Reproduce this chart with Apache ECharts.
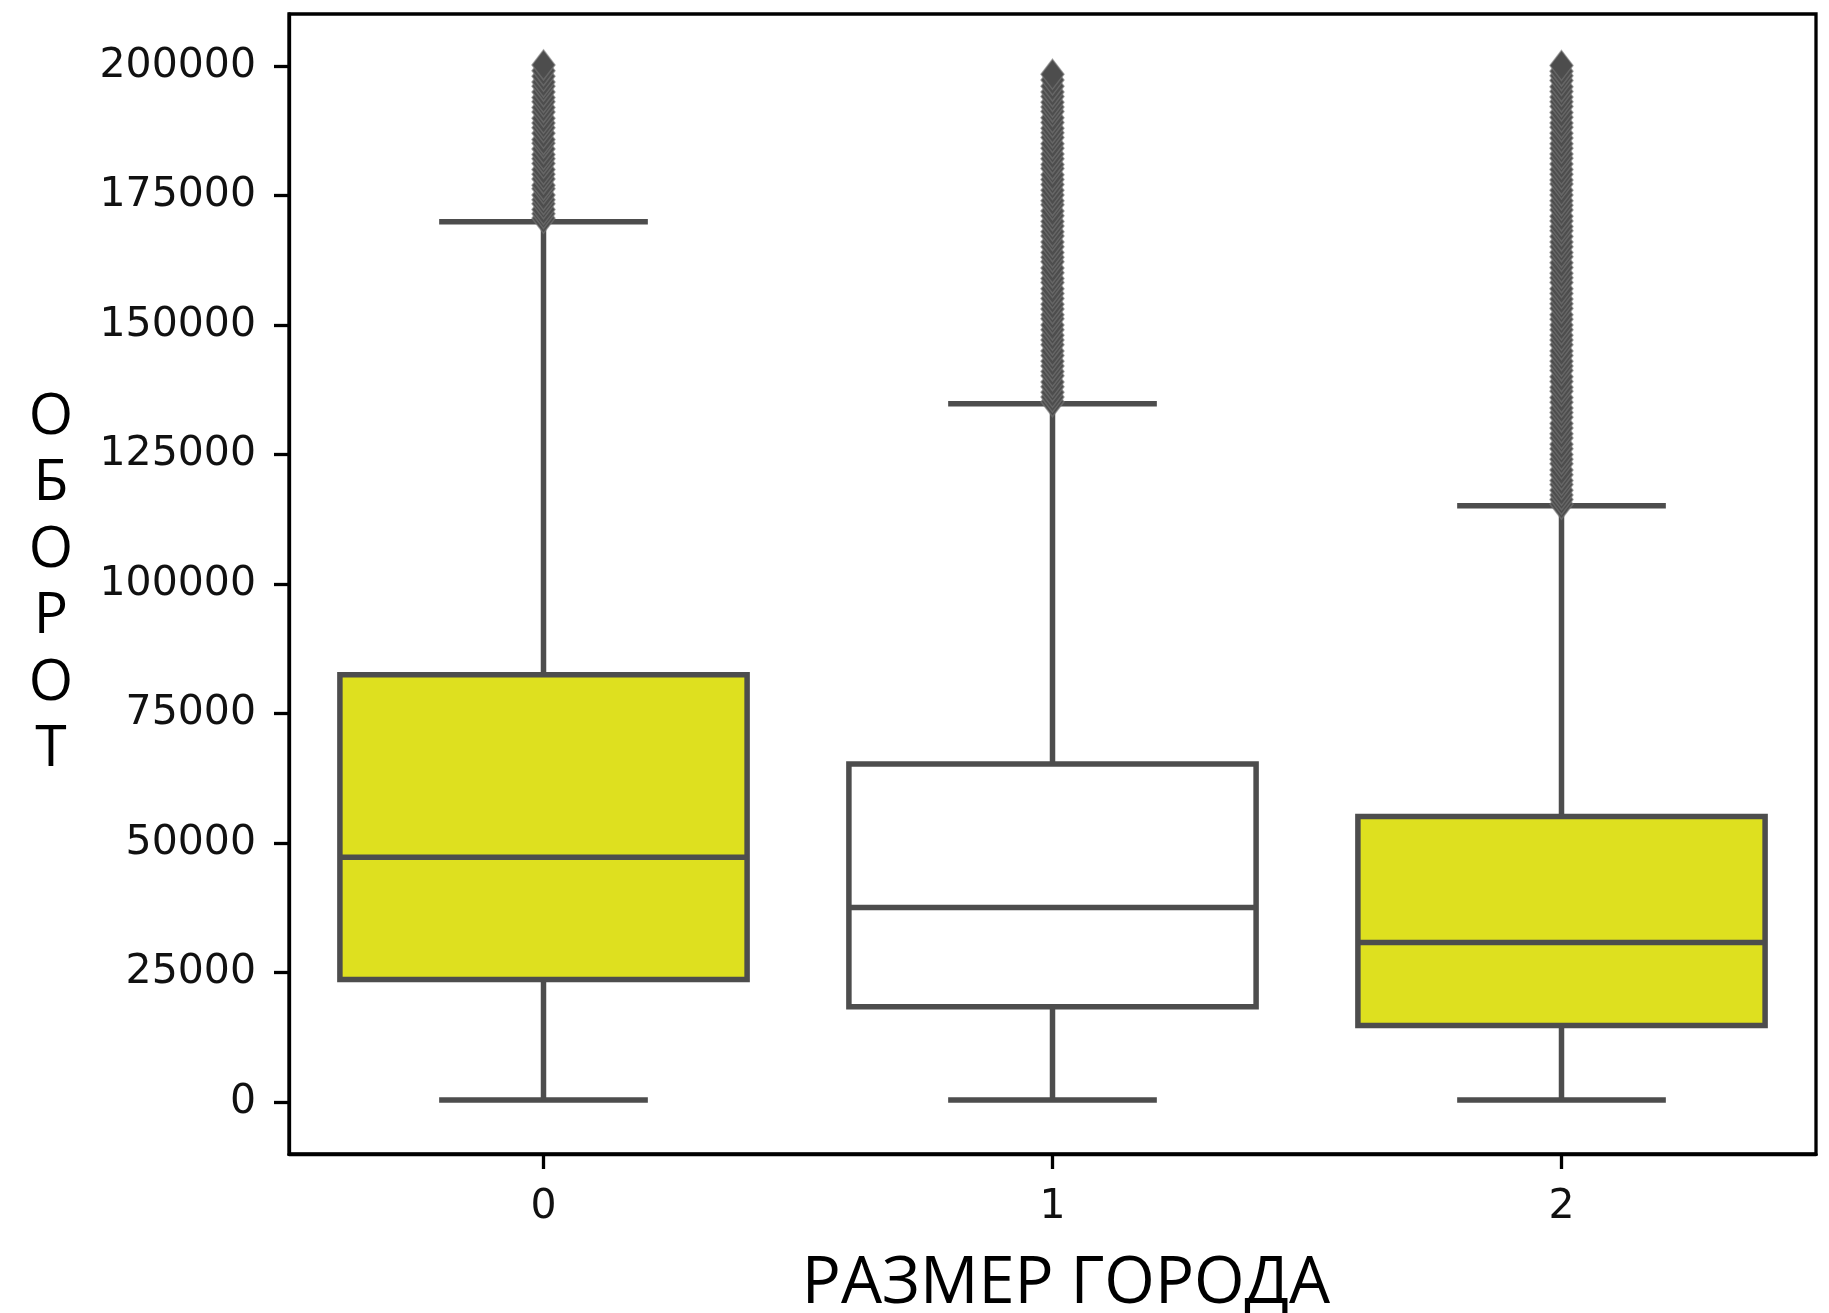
<!DOCTYPE html>
<html>
<head>
<meta charset="utf-8">
<script src="https://cdn.jsdelivr.net/npm/echarts@6/dist/echarts.min.js"></script>
<style>
  html, body { margin: 0; padding: 0; background: #ffffff; }
  #chart { width: 1829px; height: 1313px; }
</style>
</head>
<body>
<div id="chart"></div>
<script>
// City size groups on the x axis
const categories = ['0', '1', '2'];

// Box statistics per group: [lower whisker, Q1, median, Q3, upper whisker]
const boxStats = [
  [400, 23650, 47260, 82490, 169940],
  [400, 18400, 37550, 65250, 134800],
  [400, 14790, 30770, 55100, 115110]
];

// Box fill per group
const boxFills = ['#dee01f', '#ffffff', '#dee01f'];

// Outlying turnover values above the upper whisker, per group
const outliers0 = [
  170600, 171500, 172300, 173400, 174200, 175100, 176300, 177000, 178200, 179100,
  180000, 181200, 182100, 182900, 184000, 185100, 185800, 187000, 188100, 189000,
  189900, 191100, 192000, 193100, 193900, 195000, 196100, 196900, 198000, 199100,
  200200
];
const outliers1 = [
  135200, 136100, 137000, 138100, 139000, 140200, 141000, 142100, 143000, 144100,
  145000, 146200, 147100, 148000, 149100, 150000, 151200, 152000, 153100, 154000,
  155100, 156100, 157000, 158200, 159000, 160100, 161000, 162200, 163100, 164000,
  165100, 166000, 167200, 168000, 169100, 170000, 171100, 172000, 173200, 174000,
  175100, 176000, 177100, 178100, 179000, 180200, 181000, 182100, 183000, 184100,
  185000, 186200, 187100, 188000, 189100, 190000, 191200, 192100, 193000, 194100,
  195000, 196100, 197300, 198400
];
const outliers2 = [
  115400, 116300, 117200, 118100, 119200, 120000, 121100, 122000, 123200, 124100,
  125000, 126100, 127000, 128200, 129000, 130100, 131000, 132200, 133100, 134000,
  135100, 136000, 137200, 138000, 139100, 140000, 141200, 142100, 143000, 144100,
  145000, 146200, 147100, 148000, 149100, 150000, 151100, 152000, 153200, 154100,
  155000, 156100, 157000, 158200, 159100, 160000, 161100, 162000, 163200, 164000,
  165100, 166000, 167100, 168200, 169000, 170100, 171000, 172200, 173100, 174000,
  175100, 176000, 177200, 178000, 179100, 180000, 181100, 182200, 183000, 184100,
  185000, 186100, 187000, 188200, 189000, 190100, 191000, 192200, 193100, 194000,
  195100, 196000, 197200, 198100, 199000, 200100
];

// Tick values shown on the y axis
const yTicks = [0, 25000, 50000, 75000, 100000, 125000, 150000, 175000, 200000];

const xTitle = 'РАЗМЕР ГОРОДА';
const yTitle = 'ОБОРОТ';

const EDGE = '#4d4d4d';
const LINE_W = 5.5;
const TICK_FONT = 'DejaVu Sans';

const outlierData = [];
[outliers0, outliers1, outliers2].forEach((list, i) => {
  list.forEach(v => outlierData.push([i, v]));
});

const chart = echarts.init(document.getElementById('chart'), null, { renderer: 'canvas' });

chart.setOption({
  animation: false,
  backgroundColor: '#ffffff',
  grid: {
    left: 289, right: 13, top: 14, bottom: 159,
    containLabel: false,
    outerBoundsMode: 'none',
    show: true, borderColor: '#000000', borderWidth: 3.3,
    backgroundColor: 'transparent'
  },
  xAxis: {
    type: 'category',
    data: categories,
    boundaryGap: true,
    axisLine: { show: true, onZero: false, lineStyle: { color: '#000000', width: 3.3 } },
    axisTick: { show: true, alignWithLabel: true, length: 15, lineStyle: { color: '#000000', width: 3.3 } },
    axisLabel: { margin: 33, fontFamily: TICK_FONT, fontSize: 41, color: '#111111' },
    splitLine: { show: false },
    name: xTitle,
    nameLocation: 'middle',
    nameGap: 98,
    nameTextStyle: { fontFamily: 'Open Sans', fontSize: 65, color: '#000000', padding: [0, 0, 0, 27] }
  },
  yAxis: {
    type: 'value',
    min: -10038,
    max: 210039,
    axisLine: { show: true, lineStyle: { color: '#000000', width: 3.3 } },
    axisTick: { show: true, customValues: yTicks, length: 15, lineStyle: { color: '#000000', width: 3.3 } },
    axisLabel: {
      customValues: yTicks,
      formatter: v => String(v),
      margin: 33, fontFamily: TICK_FONT, fontSize: 41, color: '#111111',
      padding: [4, 0, 0, 0]
    },
    splitLine: { show: false },
    name: yTitle.split('').join('\n'),
    nameLocation: 'middle',
    nameRotate: 0,
    nameGap: 238,
    nameTextStyle: {
      fontFamily: 'Open Sans', fontSize: 57, lineHeight: 66.5, color: '#000000',
      align: 'center', verticalAlign: 'middle', padding: [0, 0, 36, 0]
    }
  },
  series: [
    {
      type: 'custom',
      name: 'box',
      data: boxStats.map((s, i) => [i].concat(s)),
      encode: { x: 0, y: [1, 2, 3, 4, 5] },
      z: 2,
      renderItem: function (params, api) {
        const c = api.value(0);
        const lo = api.value(1), q1 = api.value(2), med = api.value(3), q3 = api.value(4), hi = api.value(5);
        const band = api.size([1, 0])[0];
        const cx = api.coord([c, med])[0];
        const Y = v => api.coord([c, v])[1];
        const bw = band * 0.8;
        const cap = band * 0.41;
        const line = { stroke: EDGE, lineWidth: LINE_W };
        return {
          type: 'group',
          children: [
            { type: 'line', shape: { x1: cx, y1: Y(q3), x2: cx, y2: Y(hi) }, style: line },
            { type: 'line', shape: { x1: cx, y1: Y(q1), x2: cx, y2: Y(lo) }, style: line },
            { type: 'line', shape: { x1: cx - cap / 2, y1: Y(hi), x2: cx + cap / 2, y2: Y(hi) }, style: line },
            { type: 'line', shape: { x1: cx - cap / 2, y1: Y(lo), x2: cx + cap / 2, y2: Y(lo) }, style: line },
            {
              type: 'rect',
              shape: { x: cx - bw / 2, y: Y(q3), width: bw, height: Y(q1) - Y(q3) },
              style: { fill: boxFills[params.dataIndex], stroke: EDGE, lineWidth: LINE_W }
            },
            { type: 'line', shape: { x1: cx - bw / 2, y1: Y(med), x2: cx + bw / 2, y2: Y(med) }, style: line }
          ]
        };
      }
    },
    {
      type: 'scatter',
      name: 'outliers',
      data: outlierData,
      symbol: 'diamond',
      symbolSize: [23, 30],
      z: 3,
      itemStyle: { color: EDGE, borderColor: 'rgba(120,120,120,0.6)', borderWidth: 1.5, opacity: 1 },
      emphasis: { disabled: true }
    }
  ]
});
</script>
</body>
</html>
